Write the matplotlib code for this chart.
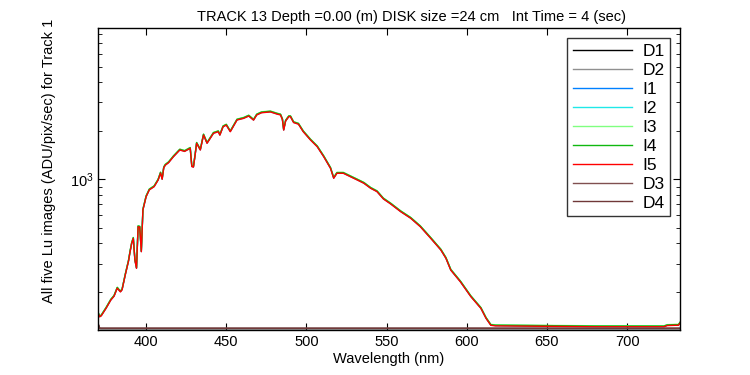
import numpy as np
import matplotlib.pyplot as plt
from matplotlib.ticker import NullFormatter

plt.rcParams['font.family'] = ['Liberation Sans', 'DejaVu Sans']

# wavelength (nm) and Lu counts (shared shape of the five images)
wl = [370, 371, 372, 375, 378, 380, 382, 383, 384, 385, 387, 389, 390, 391, 392,
      393, 394, 395, 396, 397, 398, 400, 402, 405, 407.5, 409, 410, 411, 412, 414,
      417, 421, 424, 427.5, 428.5, 429.5, 430.5, 431.5, 433.8, 435.8, 438, 442, 445,
      446, 448, 450, 452.5, 456.7, 460.8, 464, 467, 469, 472, 477.5, 481.7, 483.8,
      485, 485.8, 487, 489, 490, 492, 495, 498, 502.5, 506.7, 510.8, 515, 517, 519,
      523, 527.5, 531.7, 535.8, 540, 544, 548, 552.5, 558.8, 565, 571, 577.5, 583.8,
      587, 590, 596, 602.5, 608.8, 612, 615, 618, 640, 660, 680, 700, 715, 723,
      725, 730, 732, 733.5, 735]
lu = [148, 140, 142, 158, 178, 188, 211, 205, 200, 206, 255, 310, 355, 400, 430,
      315, 280, 508, 505, 355, 645, 780, 860, 900, 990, 1094, 1000, 1180, 1225, 1268,
      1380, 1520, 1490, 1557, 1200, 1190, 1400, 1673, 1520, 1885, 1673, 1930, 1975,
      1880, 2120, 2170, 1975, 2335, 2390, 2470, 2330, 2510, 2590, 2620, 2540, 2510,
      2350, 2020, 2300, 2450, 2450, 2250, 2200, 1975, 1755, 1594, 1380, 1170, 1015, 1090,
      1090, 1037, 990, 945, 880, 838, 755, 703, 629, 573, 508, 430, 364,
      323, 273, 231, 187, 158, 137, 124, 123, 122.5, 122, 121.5, 121.5, 121.5, 121.5,
      123.5, 124, 124, 130, 134]

# per-image gain relative to I5 (the curves sit on top of each other)
image_names = ['I1', 'I2', 'I3', 'I4', 'I5']
image_gain = [1.004, 1.008, 1.014, 1.01, 1.0]
image_colors = ['#0080ff', '#20e8e8', '#80ff80', '#10b810', '#ff0000']

# dark frames
dark_wl = [370, 371, 372, 735]
dark_names = ['D1', 'D2', 'D3', 'D4']
dark_vals = [[126, 118.3, 118.2, 118.2],
             [125, 118.6, 118.5, 118.5],
             [127, 118.9, 118.8, 118.8],
             [128, 119.2, 119.1, 119.1]]
dark_colors = ['#000000', '#909090', '#805050', '#703838']

title = 'TRACK 13 Depth =0.00 (m) DISK size =24 cm   Int Time = 4 (sec)'

fig = plt.figure(figsize=(7.5, 3.75), dpi=100)
ax = fig.add_axes([0.1307, 0.12, 0.776, 0.8053])

lines = {}
for name, vals, col in zip(dark_names[:2], dark_vals[:2], dark_colors[:2]):
    lines[name], = ax.plot(dark_wl, vals, color=col, lw=1, label=name)
for name, g, col in zip(image_names, image_gain, image_colors):
    lines[name], = ax.plot(wl, np.array(lu) * g, color=col, lw=1, label=name)
for name, vals, col in zip(dark_names[2:], dark_vals[2:], dark_colors[2:]):
    lines[name], = ax.plot(dark_wl, vals, color=col, lw=1, label=name)

ax.set_yscale('log')
ax.set_xlim(370, 733)
ax.set_ylim(116, 8700)
ax.yaxis.set_minor_formatter(NullFormatter())
ax.tick_params(which='both', direction='in', top=True, right=True, labelsize=10.5)
ax.tick_params(which='major', length=5)
ax.tick_params(which='minor', length=3)
for s in ax.spines.values():
    s.set_linewidth(1)

ax.set_xlabel('Wavelength (nm)', fontsize=10.5, labelpad=2)
ax.set_ylabel('All five Lu images (ADU/pix/sec) for Track 1', fontsize=10.5)
ax.yaxis.set_label_coords(-0.073, 0.56)
fig.text(0.548, 0.955, title, ha='center', va='center', fontsize=10.5)

order = ['D1', 'D2', 'I1', 'I2', 'I3', 'I4', 'I5', 'D3', 'D4']
leg = ax.legend([lines[n] for n in order], order, loc='upper right',
                fontsize=12.5, frameon=True, fancybox=False, edgecolor='black',
                handlelength=3.4, labelspacing=0.22, borderaxespad=0.6,
                handletextpad=0.6, borderpad=0.3)
leg.get_frame().set_linewidth(1)

fig.savefig('out.png', dpi=100)
